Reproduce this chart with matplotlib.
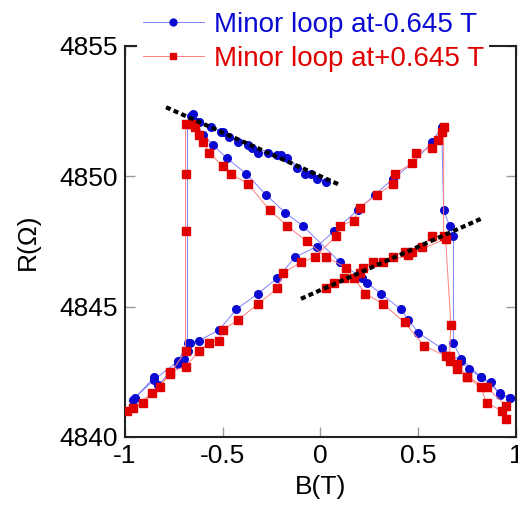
import matplotlib
matplotlib.use("Agg")
import matplotlib.pyplot as plt

plt.rcParams['font.family'] = ['Liberation Sans', 'DejaVu Sans']

# ---- data ----
# minor loop at -0.645 T (blue), in sweep order
blue_B = [0.97, 0.92, 0.87, 0.82, 0.76, 0.72, 0.62, 0.50, 0.45, 0.41, 0.31, 0.24, 0.21, 0.10,
          -0.09, -0.18, -0.28, -0.38, -0.48, -0.55, -0.60, -0.64,
          -0.65, -0.62, -0.56, -0.51, -0.47, -0.42, -0.37, -0.32, -0.27, -0.22, -0.17, -0.12,
          -0.08, -0.02, 0.03, -0.05, -0.20, -0.35, -0.50, -0.62, -0.66,
          -0.68, -0.68, -0.73, -0.85, -0.95, -0.96, -0.85, -0.83, -0.73, -0.70, -0.68, -0.67,
          -0.62, -0.52, -0.43, -0.32, -0.22, -0.13, -0.02, 0.07, 0.19, 0.28, 0.37, 0.47,
          0.57, 0.62, 0.63, 0.66, 0.68, 0.68, 0.72, 0.82, 0.92, 0.97]
blue_R = [4841.5, 4841.6, 4842.1, 4842.3, 4842.6, 4842.9, 4843.4, 4844.0, 4844.5, 4844.9,
          4845.5, 4845.9, 4846.1, 4846.7,
          4848.1, 4848.6, 4849.3, 4850.1, 4850.7, 4851.2, 4851.6, 4852.1,
          4852.4, 4852.1, 4851.9, 4851.7, 4851.5, 4851.3, 4851.2, 4850.9, 4850.9, 4850.8,
          4850.7, 4850.3, 4850.1, 4849.9, 4849.8, 4850.1, 4850.8, 4851.1, 4851.7, 4852.1, 4852.3,
          4852.0, 4843.6, 4842.9, 4842.2, 4841.5, 4841.4, 4842.3, 4842.0, 4842.8, 4843.0,
          4843.3, 4843.6,
          4843.7, 4844.1, 4844.9, 4845.5, 4846.1, 4846.9, 4847.3, 4847.9, 4848.7, 4849.3,
          4849.9, 4850.5, 4851.3, 4851.9, 4848.7, 4848.1, 4847.7, 4843.6, 4843.0, 4842.3,
          4841.7, 4841.5]

# minor loop at +0.645 T (red), in sweep order
red_B = [0.95, 0.93, 0.85, 0.82, 0.75, 0.70, 0.66, 0.64, 0.53, 0.43, 0.32, 0.23, 0.13, 0.03,
         -0.07, -0.17, -0.26, -0.37, -0.46, -0.50, -0.57, -0.60, -0.62, -0.64, -0.66,
         -0.69, -0.69, -0.69, -0.69, -0.77, -0.91, -0.99,
         -0.96, -0.86, -0.82, -0.77, -0.69, -0.62, -0.57, -0.52, -0.50, -0.42, -0.32, -0.22,
         -0.19, -0.10, -0.03, 0.08, 0.10, 0.17, 0.20, 0.29, 0.37, 0.38, 0.47, 0.49, 0.57,
         0.60, 0.62, 0.63, 0.63,
         0.57, 0.52, 0.47, 0.43, 0.37, 0.32, 0.27, 0.22, 0.17, 0.12, 0.07, 0.03,
         0.20, 0.45, 0.64, 0.667, 0.66, 0.70, 0.75, 0.85, 0.95]
red_R = [4840.7, 4841.0, 4841.3, 4841.9, 4842.3, 4842.6, 4842.9, 4843.1, 4843.5, 4844.4,
         4845.1, 4845.5, 4846.5, 4846.9,
         4847.5, 4848.1, 4848.7, 4849.7, 4850.1, 4850.4, 4850.9, 4851.3, 4851.6, 4851.9, 4852.0,
         4852.0, 4850.1, 4847.9, 4843.3, 4842.4, 4841.3, 4841.0,
         4841.1, 4841.7, 4841.9, 4842.5, 4842.7, 4843.3, 4843.6, 4843.7, 4844.1, 4844.5,
         4845.1, 4845.7, 4846.3, 4846.7, 4846.9, 4847.7, 4848.1, 4848.3, 4848.8, 4849.3,
         4849.7, 4850.1, 4850.5, 4850.9, 4851.1, 4851.4, 4851.7, 4851.9, 4847.7,
         4847.7, 4847.3, 4847.1, 4847.1, 4846.9, 4846.7, 4846.7, 4846.5, 4846.1, 4846.1,
         4845.9, 4845.7, 4846.3, 4847.0, 4847.6, 4844.3, 4843.1, 4842.8, 4842.3, 4841.9,
         4841.2]

# linear fits of the minor loops (dotted black)
fit1_B = [-0.79, 0.09]
fit1_R = [4852.65, 4849.7]
fit2_B = [-0.10, 0.83]
fit2_R = [4845.3, 4848.4]

fig = plt.figure(figsize=(5.18, 5.09), dpi=100)
ax = fig.add_axes([0.2413, 0.1415, 0.7548, 0.7682])

ax.plot(blue_B, blue_R, color='#8080ff', lw=0.7, marker='o', ms=5.5,
        mfc='#0a0ad2', mec='#0a0ad2', label='Minor loop at-0.645 T', zorder=3)
ax.plot(red_B, red_R, color='#ff8080', lw=0.7, marker='s', ms=5.5,
        mfc='#e00000', mec='#e00000', label='Minor loop at+0.645 T', zorder=4)

ax.plot(fit1_B, fit1_R, color='black', lw=3, ls=(0, (1.2, 0.8)), zorder=5)
ax.plot(fit2_B, fit2_R, color='black', lw=3, ls=(0, (1.2, 0.8)), zorder=5)

ax.set_xlim(-1, 1)
ax.set_ylim(4840, 4855)
ax.set_xticks([-1, -0.5, 0, 0.5, 1])
ax.set_xticklabels(['-1', '-0.5', '0', '0.5', '1'])
ax.set_yticks([4840, 4845, 4850, 4855])
ax.tick_params(direction='in', length=7, width=1, color='#999999',
               labelsize=19, top=True, right=True, pad=5)
for s in ax.spines.values():
    s.set_linewidth(1.5)
    s.set_color('#222222')

ax.set_xlabel('B(T)', fontsize=19, labelpad=5)
ax.set_ylabel('R(Ω)', fontsize=19, labelpad=14)

leg = fig.legend(loc='upper center', bbox_to_anchor=(0.605, 1.015), fontsize=20,
                 frameon=True, facecolor='white', edgecolor='none', framealpha=1,
                 handlelength=2.2, handletextpad=0.35, labelspacing=0.3,
                 borderpad=0.2, markerscale=0.9)
for txt, c in zip(leg.get_texts(), ['#0a0ad2', '#e00000']):
    txt.set_color(c)
leg.set_zorder(10)

fig.savefig('out.png', dpi=100)
